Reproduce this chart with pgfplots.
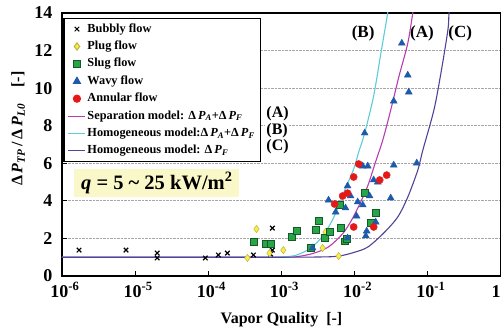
\documentclass[border=0pt]{standalone}
\usepackage{fontspec}
\setmainfont{Liberation Serif}
\usepackage{pgfplots}
\pgfplotsset{compat=1.18}

\definecolor{cA}{RGB}{185,60,175}
\definecolor{cB}{RGB}{90,205,215}
\definecolor{cC}{RGB}{85,65,150}
\definecolor{qbg}{RGB}{250,248,200}
\definecolor{gsq}{RGB}{40,165,70}
\definecolor{gsqd}{RGB}{20,90,40}
\definecolor{btri}{RGB}{30,90,170}
\definecolor{rcir}{RGB}{230,25,25}
\definecolor{ydia}{RGB}{245,240,70}
\definecolor{ydiad}{RGB}{190,180,60}

\newcommand{\dP}[1]{Δ\,\textit{P}\textsubscript{\textit{#1}}}

\begin{document}
\begin{tikzpicture}
\begin{axis}[
  scale only axis, width=439pt, height=263pt,
  xmode=log, xmin=1e-6, xmax=1, ymin=0, ymax=14,
  xtick={1e-6,1e-5,1e-4,1e-3,1e-2,1e-1,1},
  xticklabels={10\textsuperscript{-6},10\textsuperscript{-5},10\textsuperscript{-4},10\textsuperscript{-3},10\textsuperscript{-2},10\textsuperscript{-1},10\textsuperscript{0}},
  minor xtick={}, xminorticks=false,
  ytick={0,2,...,14}, yticklabels={0,2,4,6,8,10,12,14},
  tick align=inside, xtick pos=bottom, ytick pos=left,
  major tick length=5pt,
  tick style={black, line width=0.8pt},
  ymajorgrids, grid style={densely dotted, gray!70, line width=0.8pt},
  axis line style={line width=1.5pt},
  ticklabel style={font=\bfseries\fontsize{18}{18}\selectfont},
  yticklabel style={xshift=-6pt},
  xticklabel style={yshift=-3pt, xshift=3pt},
  xlabel={Vapor Quality\ \ [-]},
  ylabel={\dP{TP}\,/\,\dP{L0}\quad[-]},
  label style={font=\bfseries\fontsize{16}{16}\selectfont},
  xlabel style={at={(axis description cs:0.5,-0.167)}, anchor=center},
  ylabel style={at={(axis description cs:-0.1,0.56)}, anchor=center},
  legend style={at={(rel axis cs:0.003,0.981)}, anchor=north west,
    draw=black, line width=1.2pt, fill=white,
    font=\bfseries\fontsize{12.3}{13}\selectfont,
    nodes={inner sep=1.5pt, text height=9pt, text depth=3pt},
    row sep=2.4pt, inner xsep=4pt, inner ysep=3pt},
  legend cell align=left,
  legend image post style={line width=1pt},
]
% Bubbly
\addplot[only marks, mark=x, mark size=3.2pt, black, line width=1.2pt] coordinates {
(1.71e-6,1.38) (7.5e-6,1.38) (2.0e-5,1.22) (2.0e-5,0.96) (9.1e-5,0.96)
(1.37e-4,1.12) (1.82e-4,1.22) (4.13e-4,1.12) (7.5e-4,2.55) (7.5e-4,1.38) (7.1e-4,1.17)
};
\addlegendentry{Bubbly flow}
% Plug
\addplot[only marks, mark=diamond*, mark size=3.6pt, draw=ydiad, fill=ydia, line width=0.5pt] coordinates {
(4.55e-4,2.5) (3.42e-4,0.96) (6.85e-4,1.22) (1.06e-3,1.38) (3.65e-3,1.49) (6.04e-3,1.06) (4.0e-3,2.34)
};
\addlegendentry{Plug flow}
% Slug
\addplot[only marks, mark=square*, mark size=3.4pt, draw=gsqd, fill=gsq, line width=0.5pt] coordinates {
(4.13e-4,1.81) (6.04e-4,1.70) (7.1e-4,1.70) (1.37e-3,2.07) (1.6e-3,2.39) (2.5e-3,1.49)
(3.2e-3,2.93) (2.92e-3,2.45) (3.88e-3,2.02) (4.55e-3,2.34) (6.43e-3,2.55) (6.23e-3,3.78)
(7.3e-3,1.85) (7.7e-3,1.98) (1.37e-2,4.41) (1.94e-2,3.35) (1.66e-2,2.82)
};
\addlegendentry{Slug flow}
% Wavy
\addplot[only marks, mark=triangle*, mark size=4pt, draw=btri, fill=btri] coordinates {
(0.0441,12.39) (0.0532,10.69) (0.0549,9.79) (0.0342,9.31) (0.0137,7.61)
(0.0129,5.85) (0.0151,5.85) (0.0342,5.90) (0.0706,6.01) (0.0182,5.11) (0.0207,5.0)
(0.0080,4.79) (0.0044,4.04) (0.0075,3.62) (0.0088,4.26) (0.0110,3.94) (0.0129,3.78)
(0.0160,4.26) (0.0311,4.15) (0.0055,3.40) (0.0106,3.19) (0.0194,2.87) (0.0146,2.39)
(0.0142,2.13) (0.0080,2.02) (0.00266,1.49)
};
\addlegendentry{Wavy flow}
% Annular
\addplot[only marks, mark=*, mark size=3.6pt, draw=rcir, fill=rcir] coordinates {
(0.01135,5.96) (0.00969,5.27) (0.0274,5.37) (0.022,5.11) (0.0080,4.41) (0.00685,4.26)
(0.00532,3.83) (0.00969,2.61) (0.0182,2.61)
};
\addlegendentry{Annular flow}
% (A) separation
\addplot[cA, line width=1.1pt, smooth, tension=0.5] coordinates {
(1e-6,1) (1e-4,1) (1e-3,1.0) (1.56e-3,1.02) (2.7e-3,1.2) (4.4e-3,1.55) (6.85e-3,2.25)
(9e-3,2.95) (0.0113,3.7) (0.0151,4.8) (0.0194,6.1) (0.0242,7.23) (0.0311,8.83)
(0.0401,10.59) (0.0532,12.39) (0.0623,14.0) (0.07,15.2)
};
\addlegendentry{Separation model: \dP{A}+\dP{F}}
% (B) homogeneous A+F
\addplot[cB, line width=1.1pt, smooth, tension=0.5] coordinates {
(1e-6,1) (1e-4,1) (7e-4,1) (1.1e-3,1.02) (1.56e-3,1.1) (2.27e-3,1.38) (3.11e-3,1.81)
(4e-3,2.34) (5e-3,3.0) (5.85e-3,3.6) (6.85e-3,4.3) (9.7e-3,5.7) (0.01135,6.6)
(0.0137,7.6) (0.0182,9.6) (0.0227,11.8) (0.0283,14) (0.031,15)
};
\addlegendentry{Homogeneous model:\dP{A}+\dP{F}}
% (C) homogeneous F
\addplot[cC, line width=1.1pt, smooth, tension=0.5] coordinates {
(1e-6,1) (1e-4,1) (1e-3,1) (3e-3,1.01) (5.85e-3,1.05) (9.7e-3,1.25) (0.0151,1.54)
(0.025,2.29) (0.0388,3.14) (0.0532,4.2) (0.073,5.64) (0.0855,6.7) (0.121,8.83)
(0.151,10.8) (0.188,13.09) (0.195,14) (0.21,15)
};
\addlegendentry{Homogeneous model: \dP{F}}

\node[font=\bfseries\fontsize{16}{16}\selectfont, fill=white, inner sep=1pt, anchor=west] at (rel axis cs:0.463,0.619) {(A)};
\node[font=\bfseries\fontsize{16}{16}\selectfont, fill=white, inner sep=1pt, anchor=west] at (rel axis cs:0.463,0.554) {(B)};
\node[font=\bfseries\fontsize{16}{16}\selectfont, fill=white, inner sep=1pt, anchor=west] at (rel axis cs:0.463,0.490) {(C)};

\node[font=\bfseries\fontsize{17}{17}\selectfont] at (rel axis cs:0.686,0.924) {(B)};
\node[font=\bfseries\fontsize{17}{17}\selectfont] at (rel axis cs:0.820,0.924) {(A)};
\node[font=\bfseries\fontsize{17}{17}\selectfont] at (rel axis cs:0.907,0.924) {(C)};

\node[fill=qbg, inner xsep=7pt, inner ysep=3pt, font=\bfseries\fontsize{20.5}{20.5}\selectfont] at (rel axis cs:0.216,0.354) {\textit{q} = 5 \textasciitilde{} 25 kW/m\textsuperscript{2}};
\end{axis}
\pgfresetboundingbox
\useasboundingbox ([xshift=-62pt,yshift=-60pt]current axis.south west) rectangle ([yshift=13pt]current axis.north east);
\end{tikzpicture}
\end{document}
